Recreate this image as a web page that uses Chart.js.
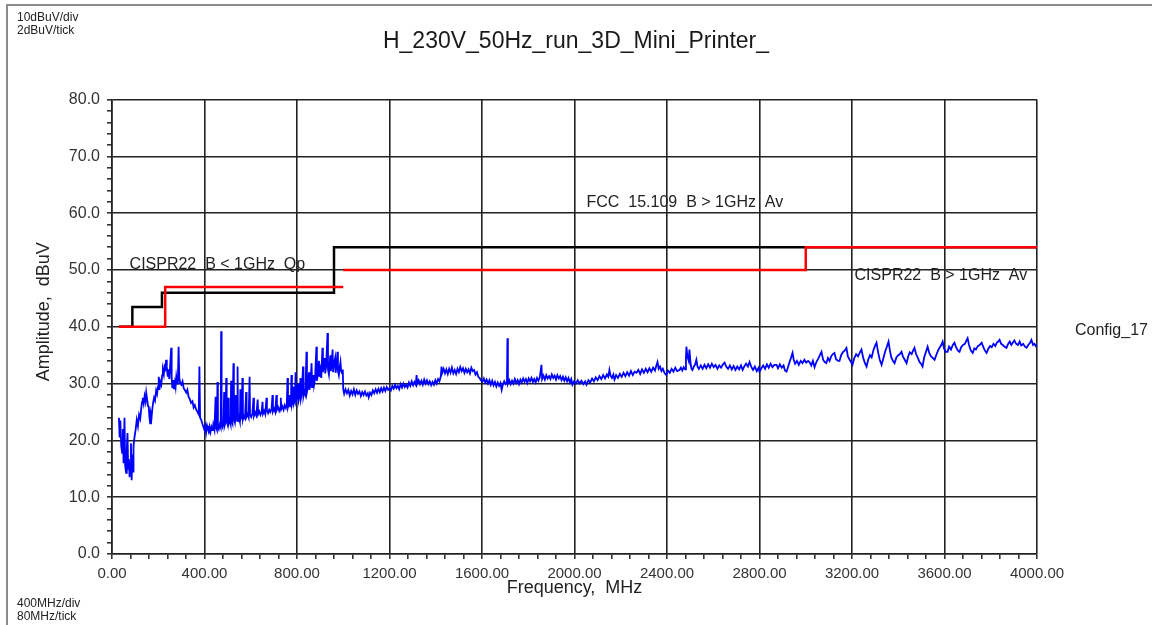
<!DOCTYPE html>
<html>
<head>
<meta charset="utf-8">
<title>H_230V_50Hz_run_3D_Mini_Printer_</title>
<script src="https://cdn.jsdelivr.net/npm/chart.js@4.4.1/dist/chart.umd.min.js"></script>
<style>
  html, body { margin: 0; padding: 0; background: #fff; }
  canvas { display: block; }
</style>
</head>
<body>
<canvas id="emc" width="1152" height="625"></canvas>
<script>
// chart text
var chartTitle = "H_230V_50Hz_run_3D_Mini_Printer_";
var xTitle = "Frequency,  MHz";
var yTitle = "      Amplitude,  dBuV"; // leading blanks nudge it up like the original
var traceName = "Config_17";

// limit lines (MHz / dBuV)
var fccMHz = [30, 88, 88, 216, 216, 960, 960, 4000];
var fccDb = [40, 40, 43.5, 43.5, 46, 46, 54, 54];
var cisprQpMHz = [30, 230, 230, 1000];
var cisprQpDb = [40, 40, 47, 47];
var cisprAvMHz = [1000, 3000, 3000, 4000];
var cisprAvDb = [50, 50, 54, 54];

var traceLow = [
  [30,24.0],[33,20.5],[36,23.5],[40,19.0],[44,17.8],[47,22.0],[50,16.0],[54,24.0],[57,15.5],[61,14.3],
  [64,18.5],[67,21.3],[70,15.0],[73,16.7],[76,13.5],[79,16.0],[82,19.5],[85,13.0],[88,17.5],[91,14.5],
  [93,18.9],[97,20.5],[102,21.8],[107,23.6],[112,22.5],[117,24.5],[122,23.8],[126,25.5],[130,26.8],[133,27.5],
  [137,26.5],[141,27.8],[145,26.9],[148,28.4],[152,27.2],[156,26.0],[159,25.9],[162,24.0],[165,23.0],[168,24.6],
  [171,24.0],[174,25.4],[178,26.7],[182,27.5],[186,27.0],[191,28.8],[195,28.2],[199,29.5],[202,31.2],[205,28.9],
  [209,30.3],[213,29.8],[217,31.5],[220,32.4],[224,31.6],[227,33.0],[231,32.6],[234,34.2],[237,33.0],[241,31.2],
  [244,32.5],[248,30.8],[252,33.5],[256,36.3],[258,31.0],[261,29.2],[265,30.6],[268,29.0],[272,30.2],[275,29.4],
  [278,31.2],[282,30.0],[285,30.8],[288,36.5],[291,31.0],[295,30.1],[300,29.8],[305,30.4],[310,29.2],[316,28.8],
  [321,28.4],[326,28.9],[331,27.7],[336,27.3],[342,26.6],[348,26.9],[353,25.8],[358,26.2],[364,25.4],[370,25.0],
  [375,24.6],[378,33.0],[381,24.0],[386,23.6],[390,23.0],[395,22.4],[400,21.8],[404,22.5],[407,21.4],[411,22.6],
  [415,22.0],[419,21.6],[422,22.4],[426,21.5],[430,22.3],[433,21.8],[436,22.0],[438,22.8],[443,21.9],[448,27.7],
  [450,22.2],[454,21.8],[456,30.3],[458,22.5],[462,22.0],[466,22.8],[470,22.3],[472,39.2],[474,23.0],[478,22.4],
  [482,23.1],[485,28.5],[487,22.6],[491,23.2],[494,31.0],[496,23.4],[500,22.8],[503,27.5],[505,23.0],[509,23.6],
  [513,22.9],[515,30.5],[517,23.5],[521,23.0],[525,33.6],[527,23.8],[531,23.2],[535,28.0],[537,23.6],[541,23.9],
  [543,33.0],[545,23.4],[549,24.0],[553,23.3],[555,29.0],[557,23.8],[561,24.2],[564,31.0],[566,23.7],[570,24.3],
  [575,23.9],[580,28.5],[582,24.2],[586,24.6],[591,24.0],[595,31.2],[597,24.5],[602,24.1],[607,24.7],[612,27.5],
  [614,24.3],[619,24.9],[624,24.4],[630,27.2],[632,24.6],[637,25.1],[642,24.5],[647,25.0],[651,26.8],[653,24.7],
  [658,25.2],[663,24.6],[668,27.5],[670,25.3],[675,24.8],[680,25.4],[685,25.0],[690,25.5],[694,28.0],[696,25.1],
  [701,25.6],[706,25.0],[711,28.0],[713,25.4],[718,25.9],[723,25.2],[728,25.8],[730,27.5],[732,25.5],[737,26.0],
  [742,25.4],[747,26.2],[752,25.7],[756,26.3],[759,31.0],[761,25.9],[765,26.5],[768,28.0],[770,26.0],[774,26.8],
  [776,31.5],[778,26.3],[782,27.0],[785,29.5],[787,26.6],[791,27.2],[794,32.0],[796,26.9],[800,27.5],[805,30.0],
  [807,27.0],[811,27.7],[815,31.0],[817,27.4],[821,28.2],[826,33.0],[828,27.8],[832,28.6],[836,28.1],[841,35.6],
  [843,28.5],[847,29.3],[852,32.0],[854,28.9],[858,29.8],[863,33.6],[865,29.4],[869,30.3],[872,31.5],[874,29.8],
  [878,30.8],[884,36.5],[886,30.5],[890,31.6],[895,34.0],[897,31.2],[901,32.4],[905,31.0],[910,36.3],[912,32.0],
  [916,33.2],[920,34.5],[922,31.8],[926,33.0],[932,38.9],[934,32.5],[938,31.6],[944,35.0],[946,32.2],[950,33.4],
  [954,36.0],[956,32.0],[960,33.5],[965,34.5],[967,31.9],[971,33.2],[975,35.6],[977,32.3],[981,31.5],[985,33.0],
  [988,33.8],[991,32.2],[995,31.8],[998,32.5]
];
var traceHigh = [
  [1000,29.0],[1004,28.2],[1010,29.0],[1016,28.3],[1022,28.9],[1028,27.9],[1034,28.7],[1040,28.1],[1046,29.0],[1052,28.0],
  [1058,28.8],[1064,28.2],[1070,28.6],[1076,27.8],[1082,28.5],[1088,28.0],[1094,28.6],[1100,27.9],[1106,28.3],[1110,27.6],
  [1116,28.4],[1122,28.0],[1128,28.8],[1134,28.3],[1140,29.0],[1146,28.4],[1152,29.1],[1158,28.5],[1164,29.2],[1170,28.6],
  [1176,29.3],[1182,28.7],[1188,29.4],[1194,28.9],[1200,29.2],[1206,28.8],[1212,29.6],[1218,29.1],[1224,29.8],[1230,29.2],
  [1236,29.6],[1242,29.0],[1248,29.9],[1254,29.3],[1260,30.0],[1266,29.4],[1272,29.8],[1278,29.3],[1284,30.2],[1290,29.6],
  [1296,30.4],[1302,29.7],[1308,30.3],[1314,29.8],[1317,31.5],[1320,30.0],[1326,30.6],[1332,29.9],[1338,30.5],[1344,29.8],
  [1350,30.7],[1356,30.0],[1362,30.6],[1368,29.9],[1374,30.4],[1380,29.7],[1386,30.3],[1392,29.8],[1398,30.6],[1404,30.0],
  [1410,30.8],[1416,30.4],[1422,31.3],[1425,33.0],[1428,31.9],[1434,32.6],[1440,31.8],[1446,32.5],[1452,31.7],[1458,32.6],
  [1464,31.9],[1470,32.8],[1476,31.8],[1482,32.4],[1488,31.7],[1494,32.6],[1500,32.0],[1506,32.9],[1512,32.2],[1518,32.7],
  [1524,31.9],[1530,32.6],[1536,32.0],[1542,32.5],[1548,31.8],[1554,32.8],[1560,32.2],[1566,32.4],[1572,31.6],[1578,32.0],
  [1584,31.2],[1589,31.0],[1595,30.6],[1602,30.3],[1608,30.9],[1614,30.2],[1620,30.7],[1626,30.0],[1632,30.6],[1638,29.8],
  [1644,30.5],[1650,29.7],[1656,30.3],[1662,29.5],[1668,30.2],[1674,29.6],[1680,30.1],[1685,28.9],[1690,29.8],[1696,30.4],
  [1702,29.9],[1708,30.2],[1710,38.0],[1712,30.0],[1718,30.6],[1724,29.9],[1730,30.5],[1736,30.0],[1742,30.8],[1748,30.1],
  [1754,30.6],[1760,29.9],[1766,30.7],[1772,30.2],[1778,30.9],[1784,30.3],[1790,30.8],[1796,30.1],[1802,30.9],[1808,30.4],
  [1814,31.0],[1820,30.3],[1826,30.8],[1832,30.2],[1838,31.0],[1844,30.5],[1850,31.1],[1857,33.3],[1860,30.8],[1866,31.4],
  [1872,30.7],[1878,31.5],[1884,30.9],[1890,31.3],[1896,30.8],[1902,31.6],[1908,31.0],[1914,31.4],[1920,30.7],[1926,31.5],
  [1932,30.9],[1938,31.3],[1944,30.6],[1950,31.2],[1956,30.5],[1962,31.1],[1968,30.4],[1974,31.0],[1980,30.2],[1986,30.8],
  [1991,29.8],[1998,30.4],[2006,30.0],[2014,30.6],[2022,30.0],[2030,30.5],[2038,29.9],[2046,30.4],[2052,29.8],[2060,30.6],
  [2068,30.2],[2076,30.9],[2084,30.4],[2092,31.1],[2100,30.6],[2108,31.3],[2116,30.8],[2124,31.5],[2132,30.9],[2140,31.6],
  [2146,31.2],[2151,32.4],[2156,31.4],[2162,31.0],[2168,31.6],[2173,30.7],[2180,31.5],[2188,31.0],[2196,31.7],[2204,31.2],
  [2212,31.9],[2220,31.3],[2228,32.0],[2236,31.4],[2244,32.2],[2252,31.5],[2260,32.1],[2268,31.9],[2276,32.4],[2284,31.7],
  [2292,32.5],[2300,31.9],[2308,32.6],[2316,32.0],[2324,32.7],[2332,32.1],[2340,32.8],[2348,32.3],[2354,33.2],[2359,33.8],
  [2364,32.6],[2370,33.0],[2376,32.2],[2382,32.6],[2390,31.8],[2397,31.5],[2404,32.3],[2412,31.9],[2420,32.6],[2428,32.1],
  [2436,32.8],[2444,32.2],[2454,32.4],[2460,32.8],[2466,32.3],[2472,32.9],[2478,32.5],[2482,34.5],[2484,36.5],[2488,34.8],
  [2494,34.0],[2497,36.0],[2502,33.5],[2506,32.6],[2510,32.4],[2516,33.0],[2522,33.4],[2527,34.2],[2532,33.0],[2538,32.6],
  [2546,33.2],[2554,32.6],[2562,33.3],[2570,32.7],[2578,33.4],[2586,32.8],[2594,33.5],[2602,32.9],[2610,33.3],[2618,32.6],
  [2626,33.2],[2634,32.8],[2642,33.4],[2649,33.7],[2656,33.0],[2664,32.6],[2672,33.2],[2680,32.5],[2688,33.1],[2696,32.4],
  [2704,33.0],[2712,32.5],[2720,33.2],[2727,32.4],[2734,33.0],[2742,33.5],[2750,33.0],[2757,33.8],[2764,33.0],[2772,32.4],
  [2780,33.0],[2788,32.2],[2796,32.8],[2800,32.1],[2808,32.7],[2816,33.2],[2824,32.6],[2832,33.4],[2840,32.8],[2848,33.5],
  [2856,32.9],[2864,33.3],[2874,33.3],[2880,32.7],[2888,33.4],[2896,32.8],[2904,33.2],[2910,32.3],[2917,32.1],[2924,33.0],
  [2930,33.8],[2936,34.5],[2943,35.4],[2948,34.2],[2954,33.5],[2962,34.0],[2970,33.3],[2978,34.0],[2986,33.6],[2994,34.2],
  [3002,33.7],[3010,34.0],[3016,33.8],[3024,33.2],[3031,34.0],[3038,32.9],[3046,33.8],[3054,34.4],[3061,35.0],[3068,35.6],
  [3075,34.2],[3082,33.8],[3089,33.6],[3096,34.5],[3103,34.0],[3110,34.8],[3117,35.2],[3124,35.4],[3131,34.3],[3140,34.0],
  [3146,34.0],[3153,35.0],[3160,35.5],[3168,35.8],[3176,36.3],[3182,34.8],[3190,34.2],[3196,33.8],[3202,33.3],[3210,34.5],
  [3218,35.2],[3226,34.8],[3234,35.5],[3241,36.0],[3248,34.6],[3256,33.6],[3263,33.0],[3270,34.2],[3278,35.0],[3285,34.6],
  [3292,35.8],[3299,36.6],[3306,37.2],[3313,35.5],[3320,34.2],[3328,33.3],[3336,34.5],[3343,35.6],[3350,36.4],[3358,37.4],
  [3364,35.8],[3370,34.6],[3377,34.0],[3384,33.6],[3392,34.6],[3400,35.0],[3407,35.2],[3414,35.6],[3420,34.8],[3428,34.2],
  [3436,33.6],[3443,34.8],[3450,35.5],[3458,35.2],[3464,35.8],[3470,36.3],[3477,35.2],[3484,34.6],[3492,33.8],[3500,33.4],
  [3505,33.0],[3512,34.6],[3520,35.6],[3527,36.5],[3534,35.4],[3542,34.8],[3550,34.5],[3557,34.2],[3564,35.0],[3572,35.8],
  [3580,36.4],[3586,36.8],[3592,37.4],[3598,36.2],[3605,35.6],[3613,35.6],[3620,36.5],[3628,36.0],[3636,36.8],[3643,37.2],
  [3650,36.4],[3658,35.8],[3665,35.6],[3672,36.4],[3680,36.8],[3688,37.0],[3694,37.5],[3700,38.0],[3706,36.8],[3714,35.8],
  [3722,35.4],[3729,36.2],[3736,36.0],[3744,36.6],[3752,36.8],[3761,37.2],[3768,36.4],[3775,35.8],[3782,35.4],[3790,36.2],
  [3797,36.6],[3804,36.4],[3812,37.0],[3820,36.6],[3826,37.2],[3832,37.4],[3838,37.7],[3845,37.0],[3852,36.8],[3860,36.5],
  [3868,36.3],[3874,36.9],[3882,37.4],[3889,36.8],[3895,37.2],[3902,37.6],[3910,37.0],[3918,36.8],[3925,37.4],[3932,36.7],
  [3940,37.0],[3948,36.5],[3955,36.3],[3962,36.8],[3970,37.2],[3976,37.7],[3983,36.8],[3989,37.0],[3995,36.6],[4000,37.0]
];

// limit line captions, placed at data coordinates
var limitLabels = [
  { text: "FCC  15.109  B > 1GHz  Av", mhz: 2052, db: 61.9 },
  { text: "CISPR22  B < 1GHz  Qp", mhz: 76, db: 50.9 },
  { text: "CISPR22  B > 1GHz  Av", mhz: 3211, db: 49.0 }
];

var fontFamily = '"Liberation Sans", Arial, sans-serif';

function toPoints(xs, ys) {
  return xs.map(function(v, i) { return { x: v, y: ys[i] }; });
}
function pairsToPoints(arr) {
  return arr.map(function(p) { return { x: p[0], y: p[1] }; });
}

var extraText = {
  id: 'extraText',
  afterDatasetsDraw: function(chart) {
    var ctx = chart.ctx, x = chart.scales.x, y = chart.scales.y, area = chart.chartArea;
    ctx.save();
    ctx.fillStyle = '#222';
    ctx.textBaseline = 'middle';
    ctx.textAlign = 'left';
    ctx.font = '16px ' + fontFamily;
    limitLabels.forEach(function(l) {
      ctx.fillText(l.text, x.getPixelForValue(l.mhz), y.getPixelForValue(l.db));
    });
    ctx.fillText(traceName, area.right + 38, y.getPixelForValue(39.3));
    ctx.restore();
  },
  afterDraw: function(chart) {
    var ctx = chart.ctx;
    ctx.save();
    ctx.strokeStyle = '#8c8c8c';
    ctx.lineWidth = 2;
    ctx.beginPath();
    ctx.moveTo(7, 625);
    ctx.lineTo(7, 5);
    ctx.lineTo(1152, 5);
    ctx.stroke();
    ctx.fillStyle = '#222';
    ctx.font = '12px ' + fontFamily;
    ctx.textBaseline = 'middle';
    ctx.textAlign = 'left';
    ctx.fillText('10dBuV/div', 17, 18);
    ctx.fillText('2dBuV/tick', 17, 31);
    ctx.fillText('400MHz/div', 17, 604);
    ctx.fillText('80MHz/tick', 17, 617);
    ctx.restore();
  }
};

var chart = new Chart(document.getElementById('emc'), {
  type: 'line',
  data: {
    datasets: [
      { label: 'CISPR22 B < 1GHz Qp', data: toPoints(cisprQpMHz, cisprQpDb), borderColor: '#ff0000', borderWidth: 2.5 },
      { label: 'CISPR22 B > 1GHz Av', data: toPoints(cisprAvMHz, cisprAvDb), borderColor: '#ff0000', borderWidth: 2.5 },
      { label: 'FCC 15.109 B > 1GHz Av', data: toPoints(fccMHz, fccDb), borderColor: '#000000', borderWidth: 2.5 },
      { label: traceName, data: pairsToPoints(traceLow.concat(traceHigh)), borderColor: '#0000ff', borderWidth: 1.8 }
    ]
  },
  options: {
    responsive: false,
    animation: false,
    elements: {
      point: { radius: 0 },
      line: { tension: 0, fill: false, borderJoinStyle: 'miter' }
    },
    layout: { padding: 0 },
    plugins: {
      legend: { display: false },
      tooltip: { enabled: false },
      title: {
        display: true,
        text: chartTitle,
        color: '#1a1a1a',
        font: { family: fontFamily, size: 23, weight: 'normal' },
        padding: { top: 28, bottom: 44 }
      }
    },
    scales: {
      x: {
        type: 'linear',
        min: 0,
        max: 4000,
        afterFit: function(s) { s.height = 71; },
        ticks: {
          stepSize: 80,
          autoSkip: false,
          maxRotation: 0,
          minRotation: 0,
          padding: 6,
          color: '#333',
          font: { family: fontFamily, size: 15 },
          callback: function(v) { return v % 400 === 0 ? v.toFixed(2) : ''; }
        },
        grid: {
          color: function(c) { return c.tick && c.tick.value % 400 === 0 ? '#222' : 'rgba(0,0,0,0)'; },
          tickColor: '#333',
          tickLength: 5,
          lineWidth: 1.6
        },
        border: { color: '#222', width: 1.6 },
        title: {
          display: true,
          text: xTitle,
          color: '#222',
          font: { family: fontFamily, size: 18 },
          padding: { top: 0, bottom: 26 }
        }
      },
      y: {
        type: 'linear',
        min: 0,
        max: 80,
        afterFit: function(s) { s.width = 112; },
        ticks: {
          stepSize: 2,
          autoSkip: false,
          padding: 7,
          color: '#333',
          font: { family: fontFamily, size: 16 },
          callback: function(v) { return v % 10 === 0 ? v.toFixed(1) : ''; }
        },
        grid: {
          color: function(c) { return c.tick && c.tick.value % 10 === 0 ? '#222' : 'rgba(0,0,0,0)'; },
          tickColor: '#333',
          tickLength: 5,
          lineWidth: 1.6
        },
        border: { color: '#222', width: 1.6 },
        title: {
          display: true,
          text: yTitle,
          color: '#222',
          font: { family: fontFamily, size: 18 },
          padding: { top: 33, bottom: 0 }
        }
      },
      // empty right-hand strip so the plot stops where the original does
      yRight: {
        type: 'linear',
        position: 'right',
        afterFit: function(s) { s.width = 115; },
        ticks: { display: false },
        grid: { display: false, drawOnChartArea: false },
        border: { display: false }
      }
    }
  },
  plugins: [extraText]
});
</script>
</body>
</html>
